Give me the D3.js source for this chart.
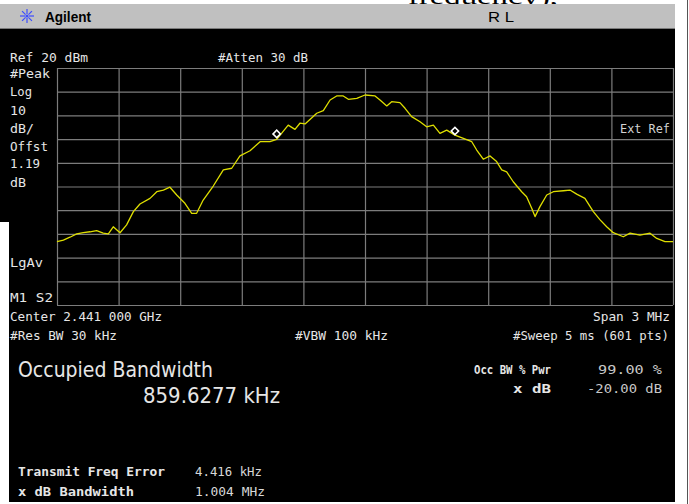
<!DOCTYPE html>
<html>
<head>
<meta charset="utf-8">
<script src="https://cdn.jsdelivr.net/npm/d3@7"></script>
<style>
  html, body { margin: 0; padding: 0; background: #fff; overflow: hidden; }
  svg { display: block; }
</style>
</head>
<body>
<svg id="screen" width="689" height="504"></svg>
<script>
// Spectrum trace: frequency offset from centre (kHz) and measured level (dBm)
const traceFreqKHz = [
  -1500, -1469, -1437, -1404, -1372, -1339, -1307, -1275, -1250, -1226,
  -1193, -1161, -1128, -1096, -1047, -1014, -982, -950, -917, -877,
  -844, -820, -788, -739, -690, -649, -609, -560, -511, -463,
  -430, -374, -341, -317, -292, -235, -203, -170, -138, -106,
  -81, -40, 0, 49, 73, 106, 130, 170, 195, 227,
  268, 300, 333, 365, 398, 438, 479, 520, 544, 576,
  609, 641, 666, 690, 722, 763, 787, 812, 828, 852,
  885, 917, 966, 998, 1031, 1071, 1112, 1145, 1177, 1209,
  1258, 1291, 1339, 1388, 1421, 1461, 1500
];
const traceLevelDbm = [
  -53.3, -52.6, -51.4, -50.0, -49.5, -49.1, -48.6, -49.7, -50.0, -47.0,
  -49.5, -46.2, -40.6, -37.4, -35.0, -32.2, -31.5, -30.3, -33.6, -37.1,
  -41.3, -41.3, -35.7, -29.8, -23.0, -22.3, -17.1, -14.9, -11.1, -11.1,
  -10.1, -4.1, -5.9, -3.3, -3.6, 0.9, 2.0, 6.5, 8.2, 8.2,
  6.8, 7.2, 8.6, 8.2, 6.5, 4.0, 5.8, 5.4, 3.0, -0.5,
  -2.7, -4.8, -4.1, -7.6, -6.2, -8.3, -9.7, -11.1, -14.6, -18.5,
  -17.1, -19.5, -23.0, -23.8, -28.0, -32.2, -34.3, -39.2, -42.7, -38.5,
  -33.6, -32.2, -31.8, -31.5, -33.2, -35.0, -40.6, -44.1, -47.0, -49.5,
  -51.2, -49.7, -50.5, -49.7, -51.9, -53.3, -53.3
];

// Occupied-bandwidth edge markers
const markerFreqKHz = [-430, 438];
const markerLevelDbm = [-7.8, -6.6];

// Display settings
const refLevelDbm = 20;
const dbPerDiv = 10;
const yDivisions = 10;
const spanKHz = 3000;
const xDivisions = 10;

// Annotation texts
const headerBrand = "Agilent";
const headerStatus = "R L";
const leftPanelLabels = ["#Peak", "Log", "10", "dB/", "Offst", "1.19", "dB"];
const lowerLeftLabels = ["LgAv", "M1  S2"];
const settingsTop = ["Ref 20 dBm", "#Atten 30 dB"];
const settingsBottom = ["Center 2.441 000 GHz", "Span 3 MHz", "#Res BW 30 kHz", "#VBW 100 kHz", "#Sweep 5 ms (601 pts)"];
const resultTitle = "Occupied Bandwidth";
const resultValue = "859.6277 kHz";
const paramNames = ["Occ BW % Pwr", "x dB"];
const paramValues = ["99.00 %", "-20.00 dB"];
const extraNames = ["Transmit Freq Error", "x dB Bandwidth"];
const extraValues = ["4.416 kHz", "1.004 MHz"];

const svg = d3.select("#screen");
const MONO = "'DejaVu Sans Mono', monospace";
const SANS = "'DejaVu Sans', sans-serif";

// Page background and the caption line of the surrounding document
svg.append("rect").attr("width", 689).attr("height", 504).attr("fill", "#fff");
svg.append("text")
  .attr("x", 408).attr("y", 4)
  .attr("font-family", "'Liberation Serif', serif").attr("font-size", 20)
  .attr("textLength", 150).attr("lengthAdjust", "spacingAndGlyphs")
  .attr("fill", "#000").text("frequency),");

// Instrument header bar
svg.append("rect").attr("x", 0).attr("y", 4).attr("width", 675).attr("height", 25).attr("fill", "#c0c0c0");
svg.append("line").attr("x1", 0).attr("x2", 675).attr("y1", 28.5).attr("y2", 28.5).attr("stroke", "#7a7a7a");

// Brand spark
const spark = svg.append("g").attr("transform", "translate(27,16)").attr("stroke", "#3c4cff").attr("stroke-width", 1.2);
d3.range(8).forEach(i => {
  const a = i * Math.PI / 4;
  spark.append("line")
    .attr("x1", Math.cos(a) * 2).attr("y1", Math.sin(a) * 2)
    .attr("x2", Math.cos(a) * 7).attr("y2", Math.sin(a) * 7);
});
spark.append("circle").attr("r", 1.6).attr("fill", "#3c4cff").attr("stroke", "none");

svg.append("text").attr("x", 45).attr("y", 22)
  .attr("font-family", "'Liberation Sans', Arial, sans-serif").attr("font-weight", "bold")
  .attr("font-size", 14).attr("textLength", 46).attr("lengthAdjust", "spacingAndGlyphs")
  .attr("fill", "#000").text(headerBrand);
svg.append("text").attr("x", 488).attr("y", 22)
  .attr("font-family", "'Liberation Sans', Arial, sans-serif")
  .attr("font-size", 15).attr("textLength", 26).attr("lengthAdjust", "spacingAndGlyphs")
  .attr("fill", "#000").text(headerStatus);

// Screen area
svg.append("rect").attr("x", 0).attr("y", 29).attr("width", 675).attr("height", 473).attr("fill", "#000");
svg.append("rect").attr("x", 0).attr("y", 222).attr("width", 9).attr("height", 282).attr("fill", "#fff");
svg.append("line").attr("x1", 687.5).attr("x2", 687.5).attr("y1", 0).attr("y2", 504).attr("stroke", "#555");

// Scales
const x = d3.scaleLinear().domain([-spanKHz / 2, spanKHz / 2]).range([57, 673]);
const y = d3.scaleLinear().domain([refLevelDbm - dbPerDiv * yDivisions, refLevelDbm]).range([305, 68]);

// Graticule drawn with axes (grid lines only)
const gridColor = "#7c7c7c";
const xTicks = d3.range(xDivisions + 1).map(i => -spanKHz / 2 + i * spanKHz / xDivisions);
const yTicks = d3.range(yDivisions + 1).map(i => refLevelDbm - i * dbPerDiv);

const gx = svg.append("g").attr("transform", `translate(0,${y.range()[0]})`)
  .call(d3.axisBottom(x).tickValues(xTicks).tickSize(-(y.range()[0] - y.range()[1])).tickFormat(""));
const gy = svg.append("g").attr("transform", `translate(${x.range()[0]},0)`)
  .call(d3.axisLeft(y).tickValues(yTicks).tickSize(-(x.range()[1] - x.range()[0])).tickFormat(""));
[gx, gy].forEach(g => {
  g.select(".domain").remove();
  g.selectAll(".tick line").attr("stroke", gridColor).attr("stroke-width", 1.2);
});

// Trace
const trace = traceFreqKHz.map((f, i) => [f, traceLevelDbm[i]]);
svg.append("path")
  .datum(trace)
  .attr("fill", "none")
  .attr("stroke", "#dede00")
  .attr("stroke-width", 1.3)
  .attr("stroke-linejoin", "round")
  .attr("d", d3.line().x(d => x(d[0])).y(d => y(d[1])));

// Markers (diamonds)
svg.append("g").selectAll("path")
  .data(markerFreqKHz.map((f, i) => [f, markerLevelDbm[i]]))
  .join("path")
  .attr("transform", d => `translate(${x(d[0])},${y(d[1])}) rotate(45)`)
  .attr("d", "M-2.6,-2.6H2.6V2.6H-2.6Z")
  .attr("fill", "#000")
  .attr("stroke", "#fff")
  .attr("stroke-width", 1.6);

// Text helper
function label(px, py, txt, o = {}) {
  const t = svg.append("text")
    .attr("x", px).attr("y", py)
    .attr("font-family", o.family || MONO)
    .attr("font-size", o.size || 13)
    .attr("font-weight", o.weight || "normal")
    .attr("fill", o.fill || "#e6e6e6")
    .attr("text-anchor", o.anchor || "start")
    .text(txt);
  if (o.width) t.attr("textLength", o.width).attr("lengthAdjust", "spacingAndGlyphs");
  return t;
}

// Reference and attenuation
label(10, 62, settingsTop[0], { width: 78 });
label(218, 62, settingsTop[1], { width: 90 });

// Left annotation column
const leftY = [78, 96, 115, 133, 151, 168, 187];
const leftW = [40, 22, 16, 24, 38, 30, 16];
leftPanelLabels.forEach((s, i) => label(10, leftY[i], s, { width: leftW[i] }));
label(10, 267, lowerLeftLabels[0], { width: 33 });
label(10, 302, lowerLeftLabels[1], { width: 43 });
label(620, 133, "Ext Ref", { width: 50, fill: "#d2d2d2" });

// Sweep settings
label(10, 321, settingsBottom[0], { width: 152 });
label(670, 321, settingsBottom[1], { width: 77, anchor: "end" });
label(10, 340, settingsBottom[2], { width: 107 });
label(295, 340, settingsBottom[3], { width: 93 });
label(669, 340, settingsBottom[4], { width: 156, anchor: "end" });

// Measurement results
label(18, 377, resultTitle, { family: SANS, size: 22, width: 195 });
label(143, 403, resultValue, { family: SANS, size: 22, width: 137 });

label(474, 374, paramNames[0], { weight: "bold", width: 77 });
label(551, 393, paramNames[1], { weight: "bold", anchor: "end", width: 38 });
label(662, 374, paramValues[0], { anchor: "end", width: 64, fill: "#c8c8c8" });
label(662, 393, paramValues[1], { anchor: "end", width: 75, fill: "#c8c8c8" });

label(18, 476, extraNames[0], { weight: "bold", width: 147 });
label(18, 496, extraNames[1], { weight: "bold", width: 116 });
label(195, 476, extraValues[0], { width: 67, fill: "#d8d8d8" });
label(195, 496, extraValues[1], { width: 70, fill: "#d8d8d8" });
</script>
</body>
</html>
